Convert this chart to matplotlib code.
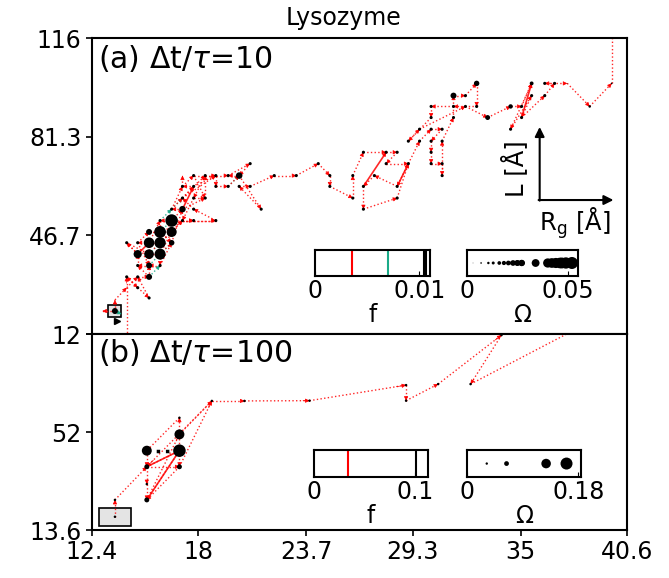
import numpy as np
import matplotlib.pyplot as plt
from matplotlib.patches import Rectangle

# ---- panel (a): dt/tau = 10 ----
path_a_x = [14.23, 14.23, 14.81, 15.41, 14.81, 15.41, 15.41, 14.81, 14.81, 14.23,
            15.41, 15.99, 15.99, 15.41, 15.41, 15.41, 14.81, 15.41, 15.99, 15.99,
            16.60, 16.60, 15.99, 15.99, 16.60, 15.99, 15.41, 15.99, 16.60, 17.17,
            16.60, 17.17, 17.76, 17.17, 17.76, 18.37, 18.37, 17.76, 17.17, 17.76,
            18.93, 17.76, 17.17, 18.93, 18.93, 19.58, 20.16, 19.58, 20.74, 20.16,
            21.32, 20.16, 20.74, 22.01, 23.17, 24.33, 24.94, 24.94, 26.15, 26.15,
            26.71, 27.91, 28.49, 27.91, 29.08, 28.49, 27.29, 26.71, 26.71, 28.49,
            29.08, 29.67, 30.28, 30.86, 30.28, 30.28, 30.28, 30.86, 30.86, 30.86,
            31.46, 31.46, 32.09, 32.68, 32.68, 31.46, 30.28, 30.28, 29.08, 29.67,
            32.09, 33.26, 34.47, 35.05, 35.58, 34.47, 35.58, 35.05, 36.27, 36.79,
            36.27, 37.46, 38.64, 39.80, 39.80]
path_a_y = [10.0, 32.1, 28.3, 24.7, 32.1, 32.1, 36.1, 36.1, 40.1, 44.1,
            40.1, 40.1, 36.1, 36.1, 40.1, 44.1, 44.1, 47.9, 47.9, 44.1,
            47.9, 51.9, 51.9, 47.9, 44.1, 40.1, 44.1, 44.1, 51.9, 55.9,
            55.9, 59.8, 63.9, 63.9, 67.7, 59.8, 67.7, 59.8, 51.9, 51.9,
            51.9, 55.9, 59.8, 67.7, 63.9, 63.9, 67.7, 67.7, 71.9, 67.7,
            55.9, 63.9, 63.9, 67.7, 67.7, 71.9, 67.7, 63.9, 59.8, 67.7,
            75.9, 75.9, 75.9, 71.9, 71.9, 63.9, 67.7, 63.9, 55.9, 59.8,
            71.9, 79.8, 84.0, 84.0, 79.8, 75.9, 71.9, 71.9, 67.7, 79.8,
            88.1, 95.8, 95.8, 100.1, 92.0, 92.0, 92.0, 88.1, 79.8, 84.0,
            92.0, 88.1, 92.0, 92.0, 100.1, 84.0, 95.8, 88.1, 95.8, 100.1,
            100.1, 100.1, 92.0, 100.1, 121.0]
# extra jumps inside the dense region (x0, y0, x1, y1)
extra_a = [(13.61, 20.1, 12.95, 20.1), (13.61, 20.1, 13.61, 24.0), (13.61, 24.0, 14.23, 28.3),
           (14.23, 28.3, 14.81, 32.1), (14.81, 28.3, 14.23, 32.1), (15.41, 32.1, 14.81, 36.1),
           (15.99, 36.1, 16.60, 44.1), (16.60, 47.9, 17.17, 51.9), (16.60, 51.9, 17.76, 51.9),
           (17.17, 51.9, 18.93, 51.9), (16.60, 55.9, 17.17, 63.9), (17.17, 59.8, 18.37, 67.7),
           (17.76, 63.9, 18.93, 67.7), (17.76, 59.8, 18.37, 59.8), (17.17, 55.9, 18.37, 59.8),
           (15.99, 40.1, 16.60, 47.9), (15.41, 44.1, 15.99, 51.9), (14.81, 40.1, 14.23, 44.1),
           (15.99, 44.1, 17.17, 51.9), (16.60, 44.1, 17.17, 55.9), (17.17, 63.9, 17.17, 67.7),
           (17.76, 67.7, 18.93, 67.7), (18.37, 67.7, 19.58, 67.7), (14.81, 44.1, 15.41, 36.1)]
teal_a = [(15.41, 40.1, 15.99, 44.1), (15.99, 44.1, 16.60, 47.9), (15.99, 47.9, 16.60, 51.9),
          (16.60, 44.1, 15.99, 40.1), (15.41, 32.1, 15.99, 36.1), (16.60, 55.9, 17.17, 59.8),
          (19.58, 63.9, 20.16, 67.7), (15.41, 36.1, 15.99, 40.1), (15.99, 51.9, 16.60, 55.9),
          (13.61, 20.1, 13.95, 19.0)]
solid_a = [(14.81, 40.1, 15.41, 44.1), (17.17, 55.9, 17.76, 63.9), (28.49, 63.9, 29.08, 71.9),
           (26.71, 63.9, 27.91, 75.9), (35.05, 88.1, 35.58, 100.1)]
nodes_a_x = [16.60, 15.99, 15.99, 15.99, 15.41, 16.60, 15.41, 14.81, 17.17, 15.41,
             15.41, 15.41, 16.60, 13.61, 37.46, 39.80, 38.64, 36.79, 35.58, 34.47,
             33.26, 32.68, 31.46, 20.16]
nodes_a_y = [51.9, 47.9, 44.1, 40.1, 44.1, 47.9, 40.1, 40.1, 55.9, 47.9,
             36.1, 32.1, 44.1, 20.1, 100.1, 100.1, 92.0, 100.1, 100.1, 92.0,
             88.1, 100.1, 95.8, 67.7]
nodes_a_om = [0.052, 0.049, 0.047, 0.046, 0.044, 0.042, 0.040, 0.034, 0.027, 0.025,
              0.025, 0.025, 0.023, 0.025, 0.003, 0.007, 0.0106, 0.013, 0.016, 0.0183,
              0.0205, 0.0226, 0.0249, 0.0272]
om_default_a = 0.013
f_red_a, f_teal_a, f_black_a = 0.0035, 0.0070, [0.0105, 0.0107]

# ---- panel (b): dt/tau = 100 ----
path_b_x = [13.61, 13.61, 15.29, 15.29, 15.29, 17.01, 17.01, 17.01, 15.29, 15.29,
            17.01, 15.29, 17.01, 18.72, 15.29, 17.01, 17.01, 18.72, 20.44, 23.87,
            28.96, 28.96, 30.65, 33.99, 32.36, 37.47]
path_b_y = [18.8, 25.4, 38.4, 31.6, 25.4, 44.7, 51.1, 57.6, 44.7, 38.4,
            38.4, 25.4, 51.1, 64.2, 38.4, 44.7, 38.4, 64.2, 64.2, 64.3,
            70.4, 64.3, 70.8, 90.0, 70.8, 90.6]
solid_b = [(15.29, 25.4, 17.01, 44.7), (15.29, 38.4, 17.01, 44.7)]
black_b = [(15.29, 44.7, 17.01, 44.7)]
nodes_b_x = [17.01, 15.29, 17.01, 15.29, 17.01, 15.29]
nodes_b_y = [44.7, 44.7, 51.1, 38.4, 38.4, 25.4]
nodes_b_om = [0.161, 0.128, 0.128, 0.064, 0.064, 0.064]
om_default_b = 0.032
f_red_b, f_black_b = 0.034, [0.101]

xticks = [12.4, 18, 23.7, 29.3, 35, 40.6]
yticks_a = [12, 46.7, 81.3, 116]
yticks_b = [13.6, 52, 90.4]

RED = '#ff0000'
TEAL = '#1aaa88'
FS = 17


def arrow(ax, x0, y0, x1, y1, color, ls=':', lw=1.0, alpha=0.85):
    ax.plot([x0, x1], [y0, y1], ls=ls, color=color, lw=lw, alpha=alpha, zorder=2)
    ax.annotate('', xy=(x1, y1), xytext=(x0 + (x1 - x0) * 0.9, y0 + (y1 - y0) * 0.9),
                arrowprops=dict(arrowstyle='-|>', color=color, lw=0.5,
                                mutation_scale=6, shrinkA=0, shrinkB=0), zorder=3)


def node_sizes(px, py, nx, ny, nom, om_def):
    pts = {}
    for x, y in zip(px, py):
        pts[(x, y)] = om_def
    for x, y, o in zip(nx, ny, nom):
        pts[(x, y)] = o
    xs = [k[0] for k in pts]
    ys = [k[1] for k in pts]
    om = [pts[k] for k in pts]
    return xs, ys, om


def draw_panel(ax, px, py, nx, ny, nom, om_def, om_max):
    for i in range(len(px) - 1):
        arrow(ax, px[i], py[i], px[i + 1], py[i + 1], RED)
    xs, ys, om = node_sizes(px, py, nx, ny, nom, om_def)
    s = (9.0 * np.array(om) / om_max) ** 2
    ax.scatter(xs, ys, s=s, color='black', zorder=4, linewidths=0)
    return om


def omega_inset(rect, om, om_max, xmax, ticks, labels):
    ins = fig.add_axes(rect)
    vals = sorted(set(om))
    s = (8.64 * np.array(vals) / om_max) ** 2
    ins.scatter(vals, [0.5] * len(vals), s=s, color='black', linewidths=0)
    ins.set_xlim(0, xmax)
    ins.set_ylim(0, 1)
    ins.set_yticks([])
    ins.set_xticks(ticks)
    ins.set_xticklabels(labels)
    ins.tick_params(direction='in', labelsize=FS, pad=2)
    ins.set_xlabel('Ω', fontsize=FS, labelpad=0)
    for sp in ins.spines.values():
        sp.set_linewidth(1.5)


def f_inset(rect, xmax, ticks, labels, lines):
    ins = fig.add_axes(rect)
    for v, c in lines:
        ins.axvline(v, color=c, lw=1.5)
    ins.set_xlim(0, xmax)
    ins.set_yticks([])
    ins.set_xticks(ticks)
    ins.set_xticklabels(labels)
    ins.tick_params(direction='in', labelsize=FS, pad=2)
    ins.set_xlabel('f', fontsize=FS, labelpad=0)
    for sp in ins.spines.values():
        sp.set_linewidth(1.5)


fig = plt.figure(figsize=(6.69, 5.78), dpi=100)
ax1 = fig.add_axes([0.1375, 0.422, 0.7995, 0.512])
ax2 = fig.add_axes([0.1375, 0.083, 0.7995, 0.339])

# panel (a)
ax1.add_patch(Rectangle((13.26, 18.0), 0.66, 4.3, facecolor='#e4e4e4', edgecolor='black', lw=1.2, zorder=1))
for x0, y0, x1, y1 in extra_a:
    arrow(ax1, x0, y0, x1, y1, RED)
for x0, y0, x1, y1 in teal_a:
    arrow(ax1, x0, y0, x1, y1, TEAL)
for x0, y0, x1, y1 in solid_a:
    arrow(ax1, x0, y0, x1, y1, RED, ls='-', lw=1.2)
om_a = draw_panel(ax1, path_a_x, path_a_y, nodes_a_x, nodes_a_y, nodes_a_om, om_default_a, 0.052)
ax1.plot([13.72], [16.6], marker='>', color='black', ms=5, zorder=5)

ax1.set_xlim(xticks[0], xticks[-1])
ax1.set_ylim(yticks_a[0], yticks_a[-1])
ax1.set_xticks(xticks)
ax1.set_xticklabels([])
ax1.set_yticks(yticks_a)
ax1.set_yticklabels(['12', '46.7', '81.3', '116'])
ax1.text(0.012, 0.985, r'(a) Δt/$\tau$=10', transform=ax1.transAxes, fontsize=21.5, va='top', ha='left')

# axis-direction arrows
ax1.annotate('', xy=(0.837, 0.70), xytext=(0.837, 0.451), xycoords='axes fraction',
             arrowprops=dict(arrowstyle='-|>', color='black', lw=1.5, mutation_scale=14, shrinkA=0, shrinkB=0))
ax1.annotate('', xy=(0.975, 0.453), xytext=(0.835, 0.453), xycoords='axes fraction',
             arrowprops=dict(arrowstyle='-|>', color='black', lw=1.5, mutation_scale=14, shrinkA=0, shrinkB=0))
ax1.text(0.79, 0.56, 'L [Å]', transform=ax1.transAxes, rotation=90, fontsize=17.5, ha='center', va='center')
ax1.text(0.903, 0.375, r'R$_\mathregular{g}$ [Å]', transform=ax1.transAxes, fontsize=17.5, ha='center', va='center')

# panel (b)
ax2.add_patch(Rectangle((12.77, 15.2), 1.69, 7.0, facecolor='#e4e4e4', edgecolor='black', lw=1.2, zorder=1))
for x0, y0, x1, y1 in solid_b:
    arrow(ax2, x0, y0, x1, y1, RED, ls='-', lw=1.2)
for x0, y0, x1, y1 in black_b:
    ax2.plot([x0, x1], [y0, y1], ls=':', color='black', lw=2.5, zorder=3)
om_b = draw_panel(ax2, path_b_x, path_b_y, nodes_b_x, nodes_b_y, nodes_b_om, om_default_b, 0.161)

ax2.set_xlim(xticks[0], xticks[-1])
ax2.set_ylim(yticks_b[0], yticks_b[-1])
ax2.set_xticks(xticks)
ax2.set_xticklabels(['12.4', '18', '23.7', '29.3', '35', '40.6'])
ax2.set_yticks(yticks_b)
ax2.set_yticklabels(['13.6', '52', ''])
ax2.text(0.012, 0.985, r'(b) Δt/$\tau$=100', transform=ax2.transAxes, fontsize=21.5, va='top', ha='left')

for ax in (ax1, ax2):
    ax.tick_params(labelsize=FS, direction='out', length=4, width=1.2)
    for sp in ax.spines.values():
        sp.set_linewidth(1.5)

fig.text(0.513, 0.968, 'Lysozyme', fontsize=FS, ha='center', va='center')

# insets
f_inset([0.471, 0.5225, 0.172, 0.045], 0.01106, [0, 0.01], ['0', '0.01'],
        [(f_red_a, RED), (f_teal_a, TEAL)] + [(v, 'black') for v in f_black_a])
omega_inset([0.698, 0.5225, 0.166, 0.045], om_a, 0.052, 0.055, [0, 0.05], ['0', '0.05'])
f_inset([0.469, 0.175, 0.171, 0.046], 0.113, [0, 0.1], ['0', '0.1'],
        [(f_red_b, RED)] + [(v, 'black') for v in f_black_b])
omega_inset([0.698, 0.175, 0.171, 0.046], om_b, 0.161, 0.185, [0, 0.18], ['0', '0.18'])

fig.savefig('out.png', dpi=100)
